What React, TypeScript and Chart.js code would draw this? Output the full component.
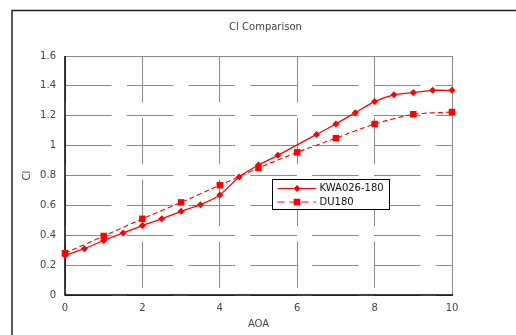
import { useEffect, useRef } from "react";
import { Chart, registerables } from "chart.js";
Chart.register(...registerables);

const chartTitle = "Cl Comparison";
const xTitle = "AOA";
const yTitle = "Cl";
const kwaLabel = "KWA026-180";
const duLabel = "DU180";
const kwaAoa = [0, 0.5, 1, 1.5, 2, 2.5, 3, 3.5, 4, 4.5, 5, 5.5, 6.5, 7, 7.5, 8, 8.5, 9, 9.5, 10];
const kwaCl = [0.265, 0.31, 0.365, 0.415, 0.465, 0.51, 0.56, 0.605, 0.67, 0.79, 0.87, 0.935, 1.075, 1.145, 1.22, 1.295, 1.34, 1.355, 1.37, 1.37];
const duAoa = [0, 1, 2, 3, 4, 5, 6, 7, 8, 9, 10];
const duCl = [0.28, 0.395, 0.51, 0.62, 0.735, 0.85, 0.955, 1.05, 1.145, 1.21, 1.225];

const FONT = "'DejaVu Sans', sans-serif";
const RED = "#ff0000";

const decor = {
  id: "decor",
  beforeDatasetsDraw(chart: any) {
    const { ctx, chartArea: a } = chart;
    ctx.save();
    ctx.setLineDash([]);
    ctx.strokeStyle = "#8a8a8a";
    ctx.lineWidth = 1;
    ctx.beginPath();
    ctx.moveTo(a.left, a.top + 0.5);
    ctx.lineTo(a.right + 0.5, a.top + 0.5);
    ctx.lineTo(a.right + 0.5, a.bottom);
    ctx.stroke();
    ctx.strokeStyle = "#000";
    ctx.lineWidth = 1.5;
    ctx.beginPath();
    ctx.moveTo(a.left, a.top);
    ctx.lineTo(a.left, a.bottom);
    ctx.lineTo(a.right + 1, a.bottom);
    ctx.stroke();
    ctx.restore();
  },
  afterDraw(chart: any) {
    const { ctx } = chart;
    ctx.save();
    ctx.strokeStyle = "#222";
    ctx.lineWidth = 1.5;
    ctx.beginPath();
    ctx.moveTo(12, 340);
    ctx.lineTo(12, 10.5);
    ctx.lineTo(520, 10.5);
    ctx.stroke();
    ctx.fillStyle = "#444";
    ctx.font = `10px ${FONT}`;
    ctx.textAlign = "center";
    ctx.textBaseline = "middle";
    ctx.fillText(chartTitle, 265.5, 27);
    const lx = 272, ly = 179, lw = 117, lh = 30;
    ctx.fillStyle = "#fff";
    ctx.fillRect(lx, ly, lw, lh);
    ctx.strokeStyle = "#000";
    ctx.lineWidth = 1;
    ctx.strokeRect(lx + 0.5, ly + 0.5, lw, lh);
    const rows = [
      { label: kwaLabel, dash: [] as number[], square: false, y: ly + 9.5 },
      { label: duLabel, dash: [7, 5], square: true, y: ly + 23 },
    ];
    for (const row of rows) {
      ctx.strokeStyle = RED;
      ctx.lineWidth = 1.2;
      ctx.setLineDash(row.dash);
      ctx.beginPath();
      ctx.moveTo(277.5, row.y);
      ctx.lineTo(316, row.y);
      ctx.stroke();
      ctx.setLineDash([]);
      ctx.fillStyle = RED;
      if (row.square) {
        ctx.fillRect(297 - 3.3, row.y - 3.3, 6.6, 6.6);
      } else {
        ctx.beginPath();
        ctx.moveTo(297, row.y - 3.5);
        ctx.lineTo(300.5, row.y);
        ctx.lineTo(297, row.y + 3.5);
        ctx.lineTo(293.5, row.y);
        ctx.closePath();
        ctx.fill();
      }
      ctx.fillStyle = "#111";
      ctx.font = `10px ${FONT}`;
      ctx.textAlign = "left";
      ctx.textBaseline = "middle";
      ctx.fillText(row.label, 319.5, row.y);
    }
    ctx.restore();
  },
};

export default function App() {
  const ref = useRef<HTMLCanvasElement>(null);
  useEffect(() => {
    const canvas = ref.current!;
    const chart = new Chart(canvas, {
      type: "line",
      data: {
        datasets: [
          {
            label: kwaLabel,
            data: kwaAoa.map((x, i) => ({ x, y: kwaCl[i] })),
            borderColor: RED,
            backgroundColor: RED,
            borderWidth: 1.3,
            pointStyle: "rectRot",
            pointRadius: 3.5,
            pointBorderWidth: 0,
            tension: 0.25,
            clip: false as any,
          },
          {
            label: duLabel,
            data: duAoa.map((x, i) => ({ x, y: duCl[i] })),
            borderColor: RED,
            backgroundColor: RED,
            borderWidth: 1.1,
            borderDash: [5, 3],
            pointStyle: "rect",
            pointRadius: 4.6,
            pointBorderWidth: 0,
            tension: 0.2,
            clip: false as any,
          },
        ],
      },
      options: {
        animation: false,
        responsive: false,
        layout: { padding: { left: 15, right: 64, top: 56, bottom: 0 } },
        plugins: { legend: { display: false }, title: { display: false }, tooltip: { enabled: false } },
        scales: {
          x: {
            type: "linear",
            min: 0,
            max: 10,
            ticks: { stepSize: 2, color: "#444", font: { family: FONT, size: 10 }, padding: 7 },
            grid: { color: "#8a8a8a", lineWidth: 1, drawTicks: false },
            border: { display: false, dash: [46.5, 15.3] },
            title: { display: true, text: xTitle, color: "#444", font: { family: FONT, size: 10 }, padding: { top: 0, bottom: 5 } },
            afterFit: (s: any) => { s.height = 40; },
          },
          y: {
            min: 0,
            max: 1.6,
            ticks: {
              stepSize: 0.2,
              color: "#444",
              font: { family: FONT, size: 10 },
              padding: 9,
              callback: (v: any) => String(Number(Number(v).toFixed(1))),
            },
            grid: { color: "#8a8a8a", lineWidth: 1, drawTicks: false },
            border: { display: false, dash: [46.5, 15.3] },
            title: { display: true, text: yTitle, color: "#444", font: { family: FONT, size: 10 }, padding: { top: 6, bottom: 0 } },
            afterFit: (s: any) => { s.width = 50; },
          },
        },
      },
      plugins: [decor],
    });
    return () => chart.destroy();
  }, []);
  return (
    <div style={{ position: "fixed", left: 0, top: 0, width: 516, height: 335, background: "#fff" }}>
      <canvas ref={ref} width={516} height={335} style={{ width: 516, height: 335, display: "block" }} />
    </div>
  );
}
